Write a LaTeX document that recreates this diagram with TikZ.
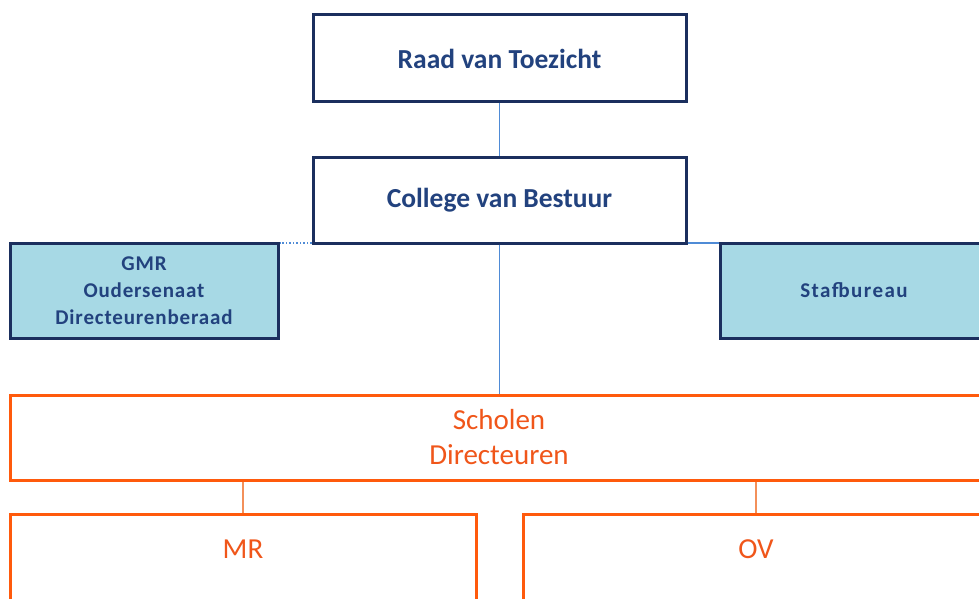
\documentclass[tikz,border=0pt]{standalone}
\usepackage{fontspec}
\setmainfont{Carlito}
\definecolor{navy}{HTML}{1B2F5E}
\definecolor{navytext}{HTML}{22427E}
\definecolor{conn}{HTML}{4F8BD6}
\definecolor{cyanfill}{HTML}{A7D9E5}
\definecolor{orng}{HTML}{FF5A0C}
\definecolor{orngtext}{HTML}{F0561A}
\definecolor{orngconn}{HTML}{F3905A}
\tikzset{
  topbox/.style={draw=navy, line width=3pt, fill=white, text=navytext, font=\fontsize{27.5}{30}\selectfont\bfseries, inner sep=0pt},
  sidebox/.style={draw=navy, line width=3pt, fill=cyanfill, text=navytext, font=\fontsize{21}{27}\selectfont\bfseries\addfontfeature{LetterSpace=4}, align=center, inner sep=0pt},
  orbox/.style={draw=orng, line width=3pt, fill=white, text=orngtext, font=\fontsize{29}{35}\selectfont, align=center, inner sep=0pt},
  ortext/.style={text=orngtext, font=\fontsize{29}{35}\selectfont, inner sep=0pt},
  conline/.style={draw=conn, line width=1.5pt},
  orline/.style={draw=orngconn, line width=1.5pt},
}
\begin{document}
\begin{tikzpicture}[x=1pt,y=-1pt]
\useasboundingbox (0,0) rectangle (979,599);
\clip (0,0) rectangle (979,599);
\coordinate (cvbmid) at (499.5,243);
\node[topbox, minimum width=373pt, minimum height=87pt] (raad) at (499.5,58.5) {Raad van Toezicht};
\node[topbox, minimum width=373pt, minimum height=86pt] (cvb) at (499.5,200) {College van Bestuur};
\node[sidebox, minimum width=268pt, minimum height=95pt] (gmr) at (144,290.5) {GMR\\Oudersenaat\\Directeurenberaad};
\node[sidebox, minimum width=268pt, minimum height=95pt, font=\fontsize{21}{27}\selectfont\bfseries\addfontfeature{LetterSpace=7}] (staf) at (854,290.5) {Stafbureau};
\node[orbox, minimum width=978pt, minimum height=85pt] (scholen) at (499,437.5) {Scholen\\Directeuren};
\node[orbox, minimum width=466pt, minimum height=120pt] (mr) at (243,574) {};
\node[orbox, minimum width=466pt, minimum height=120pt] (ov) at (756,574) {};
\node[ortext] (mrt) at (243,549) {MR};
\node[ortext] (ovt) at (756,549) {OV};
\draw[conline] (raad.south) -- (cvb.north);
\draw[conline] (cvb.south) -- (cvb.south |- scholen.north);
\draw[conline, dotted] (cvbmid -| cvb.west) -- (cvbmid -| gmr.east);
\draw[conline] (cvbmid -| cvb.east) -- (cvbmid -| staf.west);
\draw[orline] (scholen.south -| mr.north) -- (mr.north);
\draw[orline] (scholen.south -| ov.north) -- (ov.north);
\end{tikzpicture}
\end{document}
